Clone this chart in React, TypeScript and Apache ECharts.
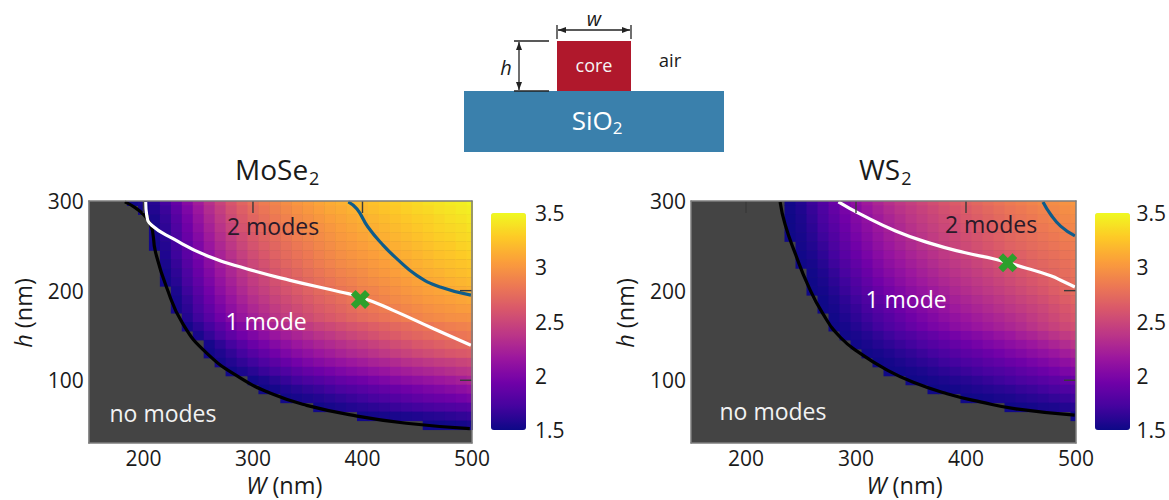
import React, { useEffect, useRef } from "react";
import * as echarts from "echarts";

const FONT = "Open Sans";
const plasma = ["#0d0887", "#46039f", "#7201a8", "#9c179e", "#bd3786", "#d8576b", "#ed7953", "#fb9f3a", "#fdca26", "#f0f921"];

const topHeight = 300;
const rightWidth = 500;
const xTicks = [200, 300, 400, 500];
const yTicks = [100, 200, 300];

// Each row is one h (300, 290, ... nm), right-aligned at W = 500; values x 100.
const moSe2Rows = [
  [152,155,160,172,188,205,220,235,248,260,270,278,285,290,295,300,304,308,312,315,318,320,323,326,329,332,335,338,340,343,345,348],
  [153,158,168,184,200,216,231,244,256,266,274,281,287,292,297,301,305,309,312,315,318,321,324,327,330,333,335,338,340,343,345],
  [155,165,180,196,212,227,240,252,262,270,277,283,288,293,297,301,305,308,311,314,317,320,323,326,329,331,334,337,339,342],
  [154,163,177,193,208,223,236,248,258,266,273,279,284,289,293,297,301,305,308,311,314,317,320,323,326,329,332,334,336,339],
  [153,161,175,190,204,219,232,243,253,262,269,275,281,286,290,294,298,302,305,308,311,314,317,320,323,326,329,331,334,336],
  [152,159,172,186,200,215,228,239,249,258,265,271,277,282,286,291,295,299,302,305,308,311,314,317,320,323,326,328,331,333],
  [157,169,183,197,211,224,235,245,254,261,268,274,279,283,288,292,296,299,302,305,308,311,314,317,320,323,325,328,330],
  [155,166,180,193,207,220,231,241,250,257,264,270,275,280,285,289,293,296,299,302,305,308,311,314,317,320,322,324,326],
  [153,163,176,190,203,216,227,237,246,253,260,266,271,276,281,285,289,292,295,299,302,305,308,311,314,316,319,321,323],
  [152,160,173,186,199,212,223,233,242,249,256,262,267,272,277,281,285,288,292,295,298,301,304,307,310,312,315,317,319],
  [156,169,182,195,208,219,229,238,245,252,258,263,268,273,277,281,284,288,290,294,297,300,303,306,308,311,313,315],
  [154,165,178,191,203,214,224,233,240,247,253,258,263,268,272,276,280,284,287,290,293,296,299,302,304,306,308,310],
  [153,162,174,186,198,209,219,228,235,242,248,253,258,263,267,271,275,279,282,285,288,291,294,297,299,301,303,304],
  [159,170,181,193,204,214,222,230,237,243,248,253,258,262,266,270,274,277,280,283,286,289,292,294,296,297,298],
  [153,162,172,183,193,203,212,219,226,232,237,242,247,251,255,259,262,266,269,272,275,278,281,284,286,288,290],
  [155,165,175,185,194,201,208,215,221,226,231,236,240,245,249,253,257,261,264,268,271,274,277,279,281,283],
  [154,163,172,181,190,197,204,210,216,221,226,230,234,238,242,246,250,254,257,261,264,267,270,272,274],
  [152,157,164,172,180,187,194,200,206,211,216,220,225,229,232,236,240,244,247,251,254,257,260,262,264],
  [153,158,164,170,177,183,189,195,200,205,209,213,217,220,224,227,230,234,237,240,243,245,248,250],
  [152,156,161,167,172,177,183,188,192,196,200,204,207,211,214,218,221,224,227,230,233,236,238],
  [152,156,161,166,171,175,179,183,187,190,193,197,200,204,207,210,213,216,219,222,226],
  [151,153,157,160,164,167,171,175,178,181,184,187,190,193,196,199,202,205,208,212],
  [152,154,156,158,161,164,167,170,173,176,179,182,185,188,190,192,195,198],
  [152,154,156,158,160,162,164,167,169,171,173,175,177,179,181],
  [152,153,154,155,156,157,159,160,162,164,166],
  [151,151,152,153,155],
];

const ws2Rows = [
  [152,158,168,178,190,200,210,219,227,234,240,245,250,255,260,264,268,272,276,280,284,287,290,293,295,298,300],
  [152,157,166,176,187,197,206,215,223,230,236,241,246,251,256,260,264,268,272,276,280,283,286,289,292,295,297],
  [151,156,164,174,184,194,203,211,219,226,232,238,243,248,253,257,261,265,269,273,277,280,283,286,289,292,294],
  [151,155,162,172,181,191,200,208,216,223,229,235,240,245,250,254,258,262,266,270,274,277,280,283,286,289,291],
  [151,154,160,169,178,188,197,205,213,220,226,232,237,242,247,251,255,259,263,267,271,274,277,280,283,286,288],
  [153,158,166,175,185,194,202,210,217,223,229,234,239,244,248,252,256,260,264,268,271,274,277,280,283,285],
  [152,156,163,172,182,190,198,206,213,219,225,230,235,240,244,248,252,256,260,264,267,271,274,277,280,283],
  [151,154,160,169,178,186,194,202,209,215,221,226,231,236,240,244,248,252,256,260,264,268,271,274,277,281],
  [152,157,165,174,182,190,198,205,211,217,222,227,232,236,240,244,248,252,256,260,264,268,271,275,279],
  [151,155,162,170,178,186,194,200,207,213,218,223,228,232,236,240,244,248,252,256,260,264,268,272,277],
  [151,153,159,167,174,182,189,196,202,208,213,218,223,228,232,236,240,244,248,252,256,260,265,270,275],
  [151,156,163,170,177,184,191,197,203,208,213,218,223,227,231,235,239,243,247,251,255,260,265,270],
  [151,154,160,166,173,180,186,192,198,203,208,213,218,222,226,230,234,238,242,246,250,255,260,265],
  [152,157,163,169,175,181,187,193,198,203,208,212,216,220,224,228,232,236,241,246,251,256,261],
  [151,154,159,165,171,177,182,188,193,198,202,207,211,215,219,223,227,231,236,241,246,251,255],
  [152,155,159,164,169,174,178,183,187,192,196,200,204,208,213,217,222,226,231,236,241,246],
  [152,155,159,163,167,171,176,180,184,188,192,196,200,204,208,212,216,221,226,231,236],
  [152,154,157,161,164,168,172,176,180,184,187,191,195,199,203,207,211,215,220,225],
  [151,153,156,159,162,165,169,172,176,179,183,186,190,193,197,201,205,209,214],
  [151,152,154,156,159,162,165,168,171,174,177,180,184,187,191,195,199,203],
  [151,152,154,156,158,160,163,166,169,172,175,178,181,184,187,191],
  [151,152,153,155,157,159,161,163,166,168,171,174,177,180],
  [151,152,153,155,156,158,160,162,165,167,170],
  [151,152,153,155,156,158,160],
  [151],
];

const moSe2CutoffW = [183,206,211,221,236,258,288,319,349,395,440,498];
const moSe2CutoffH = [299,275,243,204,163,130,103,84,72,60,52,46];
const moSe2SecondW = [202,203,207.5,227,258,294,334,380,398,428,465,499];
const moSe2SecondH = [299,284,273,258,239,224.5,211.5,198.5,193,178,157.5,139];
const moSe2ThirdW = [387,395,405,419,431,449.5,471,499];
const moSe2ThirdH = [299,291,271,250.5,236,217,204,195];

const ws2CutoffW = [231,235.5,245,256,270,285.7,304.5,326.4,351.5,382.8,414,445.5,498.8];
const ws2CutoffH = [299,274,240.7,207,174,148,129.4,112.7,98,85,75.6,68,61];
const ws2SecondW = [284,304.5,336,367,398.5,426.7,455,477,488,499];
const ws2SecondH = [299,285,266.6,253,242.5,235,225,216.5,210.5,204];
const ws2ThirdW = [470,477,486,499];
const ws2ThirdH = [299,285,272,261];

const moSe2Marker = [398, 190];
const ws2Marker = [438, 231];

const zip = (a: number[], b: number[]) => a.map((x, i) => [x, b[i]]);
const cells = (rows: number[][]) => {
  const out: number[][] = [];
  rows.forEach((row, i) => {
    row.forEach((v, j) => {
      out.push([rightWidth - 10 * (row.length - 1 - j), topHeight - 10 * i, v / 100]);
    });
  });
  return out;
};

const renderCell = (_: any, api: any) => {
  const w = api.value(0);
  const h = api.value(1);
  const a = api.coord([w - 5, h + 5]);
  const b = api.coord([w + 5, h - 5]);
  return {
    type: "rect",
    shape: { x: a[0], y: a[1], width: b[0] - a[0] + 0.5, height: b[1] - a[1] + 0.5 },
    style: { fill: api.visual("color") },
  };
};

const TICK = 12;
const renderTick = (_: any, api: any) => {
  const onRight = api.value(0) === rightWidth;
  const p = api.coord([api.value(0), api.value(1)]);
  return {
    type: "rect",
    shape: onRight
      ? { x: p[0] - TICK, y: p[1] - 0.7, width: TICK, height: 1.4 }
      : { x: p[0] - 0.7, y: p[1], width: 1.4, height: TICK },
    style: { fill: "#3a3a3a" },
  };
};

const CROSS = "path://M5 0L10 5L15 0L20 5L15 10L20 15L15 20L10 15L5 20L0 15L5 10L0 5Z";
const FRAME = { color: "#7d7d7d", width: 1.5 };
const INK = "#1a1a1a";

const nameRich = {
  i: { fontStyle: "italic", fontSize: 23.5, fontFamily: FONT, color: INK, lineHeight: 26 },
  n: { fontSize: 23.5, fontFamily: FONT, color: INK, lineHeight: 26 },
};

function panel(index: number, left: number, right: number, xPad: number) {
  const gridIndex = index;
  const grid = { left, top: 201, width: right - left, height: 242, show: true, backgroundColor: "#444444", borderWidth: 0 };
  const xAxes = [
    {
      gridIndex, type: "value", min: 150, max: 500, position: "bottom", z: 10,
      axisLine: { lineStyle: FRAME }, axisTick: { show: false }, splitLine: { show: false },
      axisLabel: { customValues: xTicks, margin: 4, fontSize: 21, fontFamily: FONT, color: INK },
      name: "{i|W}{n| (nm)}", nameLocation: "middle", nameGap: 29,
      nameTextStyle: { rich: nameRich, padding: [0, 0, 0, xPad] },
    },
    {
      gridIndex, type: "value", min: 150, max: 500, position: "top", z: 10,
      axisLine: { lineStyle: FRAME }, axisLabel: { show: false }, splitLine: { show: false }, axisTick: { show: false },
    },
  ];
  const yAxes = [
    {
      gridIndex, type: "value", min: 30, max: 300, position: "left", z: 10,
      axisLine: { lineStyle: FRAME }, axisTick: { show: false }, splitLine: { show: false },
      axisLabel: { customValues: yTicks, margin: 5, fontSize: 21, fontFamily: FONT, color: INK },
      name: "{i|h}{n| (nm)}", nameLocation: "middle", nameGap: 53, nameRotate: 90,
      nameTextStyle: { rich: nameRich, padding: [0, 0, 0, 18] },
    },
    {
      gridIndex, type: "value", min: 30, max: 300, position: "right", z: 10,
      axisLine: { lineStyle: FRAME }, axisLabel: { show: false }, splitLine: { show: false }, axisTick: { show: false },
    },
  ];
  return { grid, xAxes, yAxes };
}

function colorbar(gridIndex: number, left: number) {
  return {
    grid: { left, top: 213, width: 35, height: 217 },
    xAxes: [{ gridIndex, type: "value", show: false, min: 0, max: 1 }],
    yAxes: [{
      gridIndex, type: "value", position: "right", min: 1.5, max: 3.5, interval: 0.5,
      axisLine: { show: false }, axisTick: { show: false }, splitLine: { show: false },
      axisLabel: { margin: 9, fontSize: 21, fontFamily: FONT, color: INK },
    }],
  };
}

function curve(xAxisIndex: number, yAxisIndex: number, data: number[][], color: string, z: number) {
  return {
    type: "line", xAxisIndex, yAxisIndex, data, smooth: 0.5, symbol: "none", clip: true, z,
    lineStyle: { color, width: 3.2 }, silent: true,
  };
}

function heat(xAxisIndex: number, yAxisIndex: number, rows: number[][]) {
  return {
    type: "custom", coordinateSystem: "cartesian2d", xAxisIndex, yAxisIndex, clip: true, z: 1, silent: true,
    encode: { x: 0, y: 1 }, data: cells(rows), renderItem: renderCell,
  };
}

function tickMarks(xAxisIndex: number, yAxisIndex: number) {
  return {
    type: "custom", coordinateSystem: "cartesian2d", xAxisIndex, yAxisIndex, clip: false, z: 7, silent: true,
    encode: { x: 0, y: 1 },
    data: [...xTicks.slice(0, 3).map((w) => [w, topHeight]), ...yTicks.slice(0, 2).map((h) => [rightWidth, h])],
    renderItem: renderTick,
  };
}

function marker(xAxisIndex: number, yAxisIndex: number, p: number[]) {
  return {
    type: "scatter", xAxisIndex, yAxisIndex, data: [p], symbol: CROSS, symbolSize: 19, z: 8, silent: true,
    itemStyle: { color: "#2ca02c", opacity: 1 },
  };
}

function bar(seriesIndex: number, left: number) {
  return {
    type: "continuous", seriesIndex, dimension: 2, min: 1.5, max: 3.5, calculable: false,
    left: left - 5, top: 208, itemWidth: 35, itemHeight: 217, padding: 5, text: ["", ""],
    inRange: { color: plasma }, hoverLink: false, realtime: false,
  };
}

function label(text: string, x: number, y: number, fill: string, fontSize = 23, italic = false) {
  return {
    type: "text", x, y, z: 20, silent: true,
    style: { text, fill, fontSize, fontFamily: FONT, fontStyle: italic ? "italic" : "normal", align: "center", verticalAlign: "middle" },
  };
}

const TITLE_RICH = {
  a: { fontSize: 28, fontWeight: "normal", fontFamily: FONT, color: INK, lineHeight: 36 },
  b: { fontSize: 18, fontWeight: "normal", fontFamily: FONT, color: INK, lineHeight: 10, verticalAlign: "bottom", padding: [0, 0, 0, 1] },
};

export default function App() {
  const ref = useRef<HTMLDivElement>(null);
  useEffect(() => {
    const chart = echarts.init(ref.current!, null, { renderer: "svg" });
    const p0 = panel(0, 88.7, 472, 8);
    const p1 = panel(1, 691, 1076, 42);
    const c0 = colorbar(2, 491);
    const c1 = colorbar(3, 1095);
    const ink = "#222222";
    const stroke = { stroke: ink, lineWidth: 1.3 };
    chart.setOption({
      animation: false,
      backgroundColor: "#ffffff",
      title: [
        { text: "{a|MoSe}{b|2}", left: 235, top: 151, padding: 0, textStyle: { rich: TITLE_RICH } },
        { text: "{a|WS}{b|2}", left: 859, top: 151, padding: 0, textStyle: { rich: TITLE_RICH } },
      ],
      grid: [p0.grid, p1.grid, c0.grid, c1.grid],
      xAxis: [...p0.xAxes, ...p1.xAxes, ...c0.xAxes, ...c1.xAxes],
      yAxis: [...p0.yAxes, ...p1.yAxes, ...c0.yAxes, ...c1.yAxes],
      visualMap: [bar(0, 491), bar(5, 1095)],
      series: [
        heat(0, 0, moSe2Rows),
        curve(0, 0, zip(moSe2CutoffW, moSe2CutoffH), "#000000", 3),
        curve(0, 0, zip(moSe2SecondW, moSe2SecondH), "#ffffff", 4),
        curve(0, 0, zip(moSe2ThirdW, moSe2ThirdH), "#0f5c8a", 4),
        marker(0, 0, moSe2Marker),
        heat(2, 2, ws2Rows),
        curve(2, 2, zip(ws2CutoffW, ws2CutoffH), "#000000", 3),
        curve(2, 2, zip(ws2SecondW, ws2SecondH), "#ffffff", 4),
        curve(2, 2, zip(ws2ThirdW, ws2ThirdH), "#0f5c8a", 4),
        marker(2, 2, ws2Marker),
        tickMarks(0, 0),
        tickMarks(2, 2),
      ],
      graphic: [
        label("2 modes", 273, 226, "#2a1a2a"),
        label("1 mode", 266, 321, "#ffffff"),
        label("no modes", 163, 413, "#f2f2f2"),
        label("2 modes", 991, 224, "#2a1a2a"),
        label("1 mode", 906, 299, "#ffffff"),
        label("no modes", 773, 411, "#f2f2f2"),
        { type: "rect", shape: { x: 464, y: 91, width: 260, height: 61 }, style: { fill: "#3a80ac" } },
        { type: "rect", shape: { x: 557, y: 41, width: 74, height: 50 }, style: { fill: "#b0182c" } },
        { type: "line", shape: { x1: 557, y1: 25, x2: 557, y2: 39 }, style: stroke },
        { type: "line", shape: { x1: 631, y1: 25, x2: 631, y2: 39 }, style: stroke },
        { type: "line", shape: { x1: 558, y1: 30, x2: 630, y2: 30 }, style: stroke },
        { type: "polygon", shape: { points: [[558, 30], [566, 27], [566, 33]] }, style: { fill: ink } },
        { type: "polygon", shape: { points: [[630, 30], [622, 27], [622, 33]] }, style: { fill: ink } },
        { type: "line", shape: { x1: 514, y1: 41, x2: 549, y2: 41 }, style: stroke },
        { type: "line", shape: { x1: 514, y1: 91, x2: 549, y2: 91 }, style: stroke },
        { type: "line", shape: { x1: 519, y1: 42, x2: 519, y2: 90 }, style: stroke },
        { type: "polygon", shape: { points: [[519, 42], [516, 50], [522, 50]] }, style: { fill: ink } },
        { type: "polygon", shape: { points: [[519, 90], [516, 82], [522, 82]] }, style: { fill: ink } },
        label("w", 594, 18, INK, 20, true),
        label("h", 506, 67, INK, 20, true),
        label("core", 594, 65, "#f5f5f5", 18),
        label("air", 670, 59, INK, 18.5),
        {
          type: "text", x: 597, y: 120, z: 20, silent: true,
          style: {
            text: "{a|SiO}{b|2}", align: "center", verticalAlign: "middle",
            rich: {
              a: { fontSize: 26, fontFamily: FONT, fill: "#ffffff", lineHeight: 32 },
              b: { fontSize: 17, fontFamily: FONT, fill: "#ffffff", lineHeight: 10, verticalAlign: "bottom" },
            },
          },
        },
      ],
    });
    return () => chart.dispose();
  }, []);
  return <div ref={ref} style={{ position: "fixed", left: 0, top: 0, width: 1169, height: 500 }} />;
}
